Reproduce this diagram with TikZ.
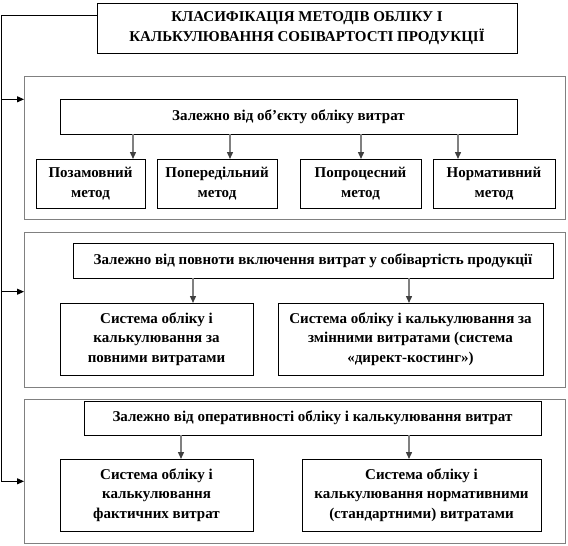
\documentclass[tikz,border=0pt]{standalone}
\usepackage{fontspec}
\setmainfont{Liberation Serif}
\usetikzlibrary{arrows.meta}

\begin{document}
\begin{tikzpicture}[x=1pt,y=-1pt,>={Triangle[length=7pt,width=6pt]},
  box/.style={draw,line width=0.9pt,inner sep=0pt,outer sep=0pt,align=center,font=\bfseries\fontsize{15}{19.5}\selectfont},
  group/.style={draw=black!50,line width=0.9pt,inner sep=0pt,outer sep=0pt},
  sub/.style={-{Triangle[length=7pt,width=6pt,color=black!75]},draw=black!50,line width=1.4pt}]
  \useasboundingbox (0,0) rectangle (568,546);
  % title
  \node[box,minimum width=420,minimum height=50] (title) at (307,28.3) {КЛАСИФІКАЦІЯ МЕТОДІВ ОБЛІКУ І\\КАЛЬКУЛЮВАННЯ СОБІВАРТОСТІ ПРОДУКЦІЇ};
  % groups
  \node[group,minimum width=541,minimum height=143] (g1) at (294.5,147.5) {};
  \node[group,minimum width=541,minimum height=155] (g2) at (294.5,309.5) {};
  \node[group,minimum width=541,minimum height=143.5] (g3) at (294.5,471.25) {};
  % group 1
  \node[box,minimum width=457,minimum height=35] (h1) at (288.5,116.5) {Залежно від об’єкту обліку витрат};
  \node[box,minimum width=109,minimum height=49] (b1) at (90.5,183.5) {Позамовний\\метод};
  \node[box,minimum width=120,minimum height=49] (b2) at (217,183.5) {Попередільний\\метод};
  \node[box,minimum width=121,minimum height=49] (b3) at (360.5,183.5) {Попроцесний\\метод};
  \node[box,minimum width=122,minimum height=49] (b4) at (494,183.5) {Нормативний\\метод};
  \draw[sub] (h1.south -| 133,0) -- (b1.north -| 133,0);
  \draw[sub] (h1.south -| 230,0) -- (b2.north -| 230,0);
  \draw[sub] (h1.south -| 361,0) -- (b3.north -| 361,0);
  \draw[sub] (h1.south -| 458,0) -- (b4.north -| 458,0);
  % group 2
  \node[box,minimum width=480,minimum height=35] (h2) at (313,260.5) {Залежно від повноти включення витрат у собівартість продукції};
  \node[box,minimum width=193,minimum height=72] (l2) at (156.5,339) {Система обліку і\\калькулювання  за\\повними витратами};
  \node[box,minimum width=265,minimum height=72] (r2) at (410.5,339) {Система обліку і калькулювання за\\змінними витратами (система\\«директ-костинг»)};
  \draw[sub] (h2.south -| 193,0) -- (l2.north -| 193,0);
  \draw[sub] (h2.south -| 409,0) -- (r2.north -| 409,0);
  % group 3
  \node[box,minimum width=457,minimum height=34] (h3) at (312.5,418) {Залежно від оперативності обліку і калькулювання витрат};
  \node[box,minimum width=193,minimum height=72] (l3) at (156.5,495) {Система обліку і\\калькулювання\\фактичних витрат};
  \node[box,minimum width=239,minimum height=72] (r3) at (421.5,495) {Система обліку і\\калькулювання нормативними\\(стандартними) витратами};
  \draw[sub] (h3.south -| 181,0) -- (l3.north -| 181,0);
  \draw[sub] (h3.south -| 409,0) -- (r3.north -| 409,0);
  % left line
  \coordinate (s0) at (1,15.3);
  \coordinate (s1) at (1,99.3);
  \coordinate (s2) at (1,291.7);
  \coordinate (s3) at (1,481.3);
  \draw[->,line width=0.9pt] (title.west |- s0) -- (s0) -- (s3) -- (s3 -| g3.west);
  \draw[->,line width=0.9pt] (s1) -- (s1 -| g1.west);
  \draw[->,line width=0.9pt] (s2) -- (s2 -| g2.west);
\end{tikzpicture}
\end{document}
